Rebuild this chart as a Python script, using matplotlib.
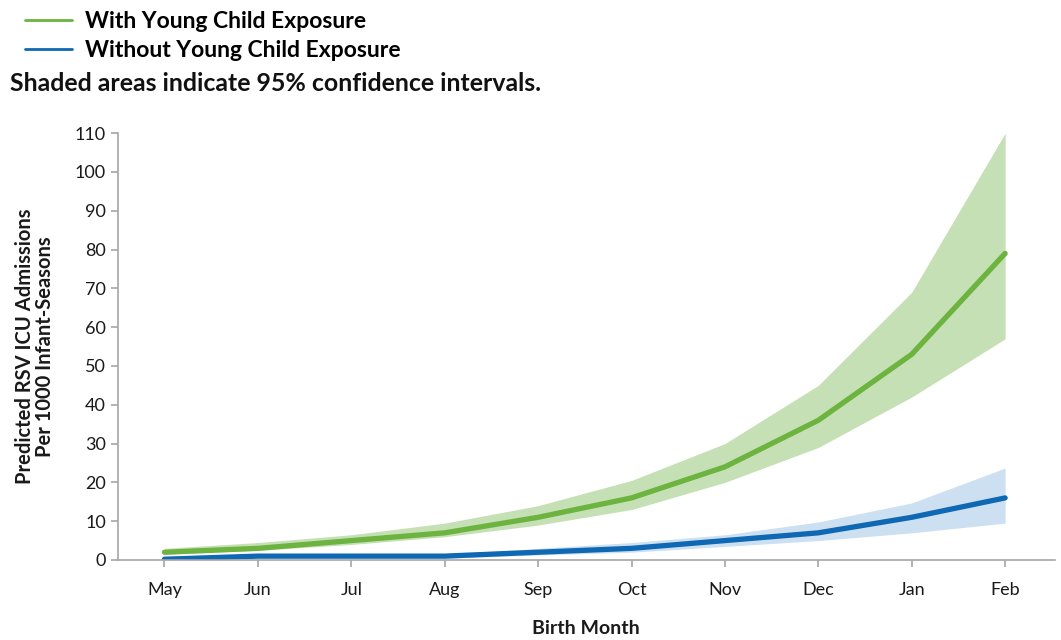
import matplotlib
matplotlib.use("Agg")
import matplotlib.pyplot as plt
import numpy as np

plt.rcParams['font.family'] = ['Lato', 'DejaVu Sans']

months = ["May", "Jun", "Jul", "Aug", "Sep", "Oct", "Nov", "Dec", "Jan", "Feb"]
with_exposure = [2, 3, 5, 7, 11, 16, 24, 36, 53, 79]
with_lower = [1.5, 2.5, 4, 6, 9, 13, 20, 29, 42, 57]
with_upper = [3, 4.5, 6.5, 9.5, 14, 20.5, 30, 45, 69, 110]
without_exposure = [0.2, 1, 1, 1, 2, 3, 5, 7, 11, 16]
without_lower = [0, 0.5, 0.5, 0.5, 1.3, 2, 3.5, 5, 7, 9.5]
without_upper = [0.5, 1.3, 1.5, 1.5, 3, 4.5, 6.5, 9.8, 14.7, 23.7]

green = "#6db33f"
green_band = "#c5e0b4"
blue = "#0f68b3"
blue_band = "#cde0f1"

fig = plt.figure(figsize=(10.61, 6.40), dpi=100)
ax = fig.add_axes([0.111, 0.125, 0.883, 0.667])
x = np.arange(len(months))

ax.fill_between(x, with_lower, with_upper, color=green_band, lw=0)
ax.fill_between(x, without_lower, without_upper, color=blue_band, lw=0)
l1, = ax.plot(x, with_exposure, color=green, lw=3.8, solid_capstyle='round',
              label="With Young Child Exposure")
l2, = ax.plot(x, without_exposure, color=blue, lw=3.8, solid_capstyle='round',
              label="Without Young Child Exposure")

ax.set_xlim(-0.5, 9.53)
ax.set_ylim(0, 110)
ax.set_yticks(range(0, 111, 10))
ax.set_xticks(x)
ax.set_xticklabels(months)
for s in ["top", "right"]:
    ax.spines[s].set_visible(False)
for s in ["left", "bottom"]:
    ax.spines[s].set_color("#a6a6a6")
    ax.spines[s].set_linewidth(1.2)
ax.tick_params(axis='both', colors="#a6a6a6", labelcolor="#1a1a1a", labelsize=13,
               length=5, width=1.2)
ax.tick_params(axis='x', pad=11)
ax.set_ylabel("Predicted RSV ICU Admissions\nPer 1000 Infant-Seasons",
              fontsize=14.5, fontweight='bold', color="#1a1a1a", labelpad=14,
              linespacing=1.05)
ax.set_xlabel("Birth Month", fontsize=14, fontweight='bold', color="#1a1a1a",
              labelpad=16)

leg = fig.legend(handles=[l1, l2], loc='upper left', bbox_to_anchor=(0.0236, 0.983),
                 frameon=False, handlelength=2.05, handletextpad=0.55,
                 borderpad=0, borderaxespad=0,
                 labelspacing=0.37, prop={'weight': 'bold', 'size': 16.5})
for h in leg.legend_handles:
    h.set_linewidth(2.0)
fig.text(0.009, 0.869, "Shaded areas indicate 95% confidence intervals.",
         fontsize=17.9, fontweight='bold', color="#111111", va='center')

fig.savefig("out.png", dpi=100)
